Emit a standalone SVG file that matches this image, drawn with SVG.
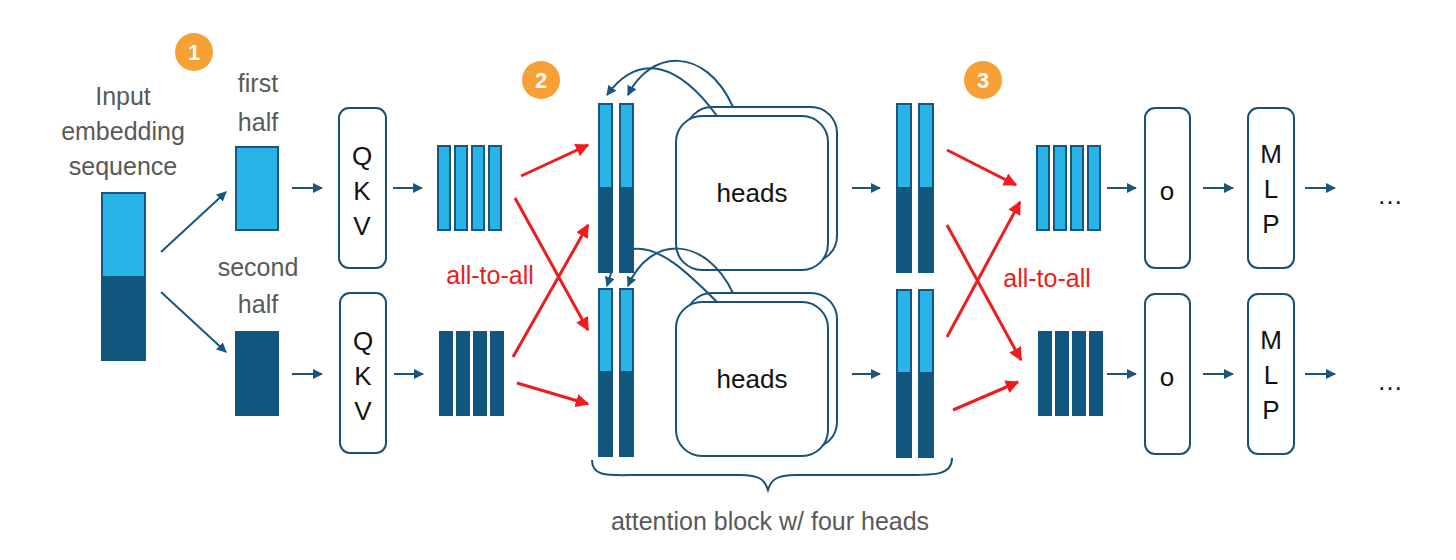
<svg xmlns="http://www.w3.org/2000/svg" width="1456" height="560" viewBox="0 0 1456 560">
<defs>
<marker id="ab" viewBox="0 0 10 10" refX="9" refY="5" markerWidth="5" markerHeight="5" orient="auto"><path d="M0,0 L10,5 L0,10 z" fill="#1a5580"/></marker>
<marker id="ar" viewBox="0 0 10 10" refX="9" refY="5" markerWidth="4.5" markerHeight="4.5" orient="auto"><path d="M0,0 L10,5 L0,10 z" fill="#ee1c1c"/></marker>
<style>
.l{fill:#29b4e8;stroke:#1a5580;stroke-width:2}
.d{fill:#12557e;stroke:#12557e;stroke-width:2}
.box{fill:#fff;stroke:#1a4f78;stroke-width:2}
.c{stroke:#1a5580;stroke-width:2;fill:none;marker-end:url(#ab)}
.r{stroke:#ee1c1c;stroke-width:3;fill:none;marker-end:url(#ar)}
.g{font-family:"Liberation Sans",Arial,sans-serif;font-size:25px;fill:#595959;text-anchor:middle}
.k{font-family:"Liberation Sans",Arial,sans-serif;font-size:26px;fill:#111;text-anchor:middle}
.red{font-family:"Liberation Sans",Arial,sans-serif;font-size:25px;fill:#ee1c1c;text-anchor:middle}
.badge{fill:#f7a035}
.bt{font-family:"Liberation Sans",Arial,sans-serif;font-size:22px;font-weight:bold;fill:#fff;text-anchor:middle}
</style>
</defs>
<rect width="1456" height="560" fill="#fff"/>

<g id="badges">
<circle class="badge" cx="194" cy="52" r="19"/><text class="bt" x="194" y="60">1</text>
<circle class="badge" cx="541" cy="80" r="19"/><text class="bt" x="541" y="88">2</text>
<circle class="badge" cx="983" cy="80" r="19"/><text class="bt" x="983" y="88">3</text>
</g>

<g id="input">
<text class="g" x="123" y="105">Input</text>
<text class="g" x="123" y="140">embedding</text>
<text class="g" x="123" y="175">sequence</text>
<rect class="l" x="102" y="193" width="43" height="84"/>
<rect class="d" x="102" y="277" width="43" height="83"/>
</g>

<g id="first-half">
<text class="g" x="258" y="92">first</text>
<text class="g" x="258" y="131">half</text>
<rect class="l" x="236" y="147" width="42" height="83"/>
</g>
<g id="second-half">
<text class="g" x="258" y="276">second</text>
<text class="g" x="258" y="313">half</text>
<rect class="d" x="236" y="332" width="42" height="83"/>
</g>

<g id="qkv1"><rect class="box" x="339" y="108" width="47" height="160" rx="10"/>
<text class="k" x="362" y="165">Q</text><text class="k" x="362" y="200">K</text><text class="k" x="362" y="235">V</text></g>
<g id="qkv2"><rect class="box" x="340" y="293" width="46" height="160" rx="10"/>
<text class="k" x="363" y="350">Q</text><text class="k" x="363" y="385">K</text><text class="k" x="363" y="420">V</text></g>

<g id="qkvout1">
<rect class="l" x="438" y="146" width="12" height="84"/><rect class="l" x="455" y="146" width="12" height="84"/><rect class="l" x="472" y="146" width="12" height="84"/><rect class="l" x="489" y="146" width="12" height="84"/>
</g>
<g id="qkvout2">
<rect class="d" x="440" y="332" width="12" height="83"/><rect class="d" x="457" y="332" width="12" height="83"/><rect class="d" x="474" y="332" width="12" height="83"/><rect class="d" x="491" y="332" width="12" height="83"/>
</g>

<g id="attn-in1">
<rect class="l" x="599" y="104" width="13" height="84"/><rect class="d" x="599" y="188" width="13" height="84"/>
<rect class="l" x="620" y="104" width="13" height="84"/><rect class="d" x="620" y="188" width="13" height="84"/>
</g>
<g id="attn-in2">
<rect class="l" x="599" y="289" width="13" height="83"/><rect class="d" x="599" y="372" width="13" height="84"/>
<rect class="l" x="620" y="289" width="13" height="83"/><rect class="d" x="620" y="372" width="13" height="84"/>
</g>

<g id="heads1">
<rect class="box" x="686" y="107" width="151" height="155" rx="26"/>
<rect class="box" x="676" y="116" width="152" height="154" rx="26"/>
<text class="k" x="752" y="202">heads</text>
</g>
<g id="heads2">
<rect class="box" x="686" y="293" width="151" height="155" rx="26"/>
<rect class="box" x="676" y="302" width="152" height="154" rx="26"/>
<text class="k" x="752" y="388">heads</text>
</g>

<g id="attn-out1">
<rect class="l" x="897" y="104" width="14" height="84"/><rect class="d" x="897" y="188" width="14" height="84"/>
<rect class="l" x="919" y="104" width="14" height="84"/><rect class="d" x="919" y="188" width="14" height="84"/>
</g>
<g id="attn-out2">
<rect class="l" x="897" y="290" width="14" height="83"/><rect class="d" x="897" y="373" width="14" height="84"/>
<rect class="l" x="919" y="290" width="14" height="83"/><rect class="d" x="919" y="373" width="14" height="84"/>
</g>

<g id="oin1">
<rect class="l" x="1037" y="146" width="12" height="84"/><rect class="l" x="1054" y="146" width="12" height="84"/><rect class="l" x="1071" y="146" width="12" height="84"/><rect class="l" x="1088" y="146" width="12" height="84"/>
</g>
<g id="oin2">
<rect class="d" x="1039" y="332" width="12" height="83"/><rect class="d" x="1056" y="332" width="12" height="83"/><rect class="d" x="1073" y="332" width="12" height="83"/><rect class="d" x="1090" y="332" width="12" height="83"/>
</g>

<g id="o1"><rect class="box" x="1145" y="108" width="45" height="160" rx="10"/><text class="k" x="1167" y="200">o</text></g>
<g id="o2"><rect class="box" x="1145" y="294" width="45" height="160" rx="10"/><text class="k" x="1167" y="386">o</text></g>
<g id="mlp1"><rect class="box" x="1248" y="108" width="46" height="160" rx="10"/>
<text class="k" x="1271" y="163">M</text><text class="k" x="1271" y="198">L</text><text class="k" x="1271" y="233">P</text></g>
<g id="mlp2"><rect class="box" x="1248" y="294" width="46" height="160" rx="10"/>
<text class="k" x="1271" y="349">M</text><text class="k" x="1271" y="384">L</text><text class="k" x="1271" y="419">P</text></g>

<g id="dots">
<text class="k" x="1390" y="204">…</text>
<text class="k" x="1390" y="390">…</text>
</g>

<g id="connectors">
<path class="c" d="M161,252 L226,192"/>
<path class="c" d="M161,292 L226,352"/>
<path class="c" d="M292,188 L322,188"/>
<path class="c" d="M292,374 L322,374"/>
<path class="c" d="M393,188 L422,188"/>
<path class="c" d="M394,374 L423,374"/>
<path class="c" d="M852,188 L880,188"/>
<path class="c" d="M852,374 L880,374"/>
<path class="c" d="M1107,188 L1136,188"/>
<path class="c" d="M1107,374 L1136,374"/>
<path class="c" d="M1203,188 L1233,188"/>
<path class="c" d="M1203,374 L1233,374"/>
<path class="c" d="M1305,188 L1335,188"/>
<path class="c" d="M1305,374 L1335,374"/>
<path class="c" d="M733,107 C705,45 650,50 628,95"/>
<path class="c" d="M717,116 C680,65 640,50 607,95"/>
<path class="c" d="M733,293 C705,235 650,235 628,286"/>
<path class="c" d="M717,302 C690,275 660,245 633,249 M612,270 L607,286"/>
<path class="r" d="M521,176 L588,145"/>
<path class="r" d="M515,198 L588,330"/>
<path class="r" d="M513,357 L588,225"/>
<path class="r" d="M517,383 L588,404"/>
<path class="r" d="M947,150 L1016,185"/>
<path class="r" d="M947,225 L1021,360"/>
<path class="r" d="M947,337 L1020,202"/>
<path class="r" d="M953,410 L1018,382"/>
<path d="M592,460 C592,478 610,475 640,475 L740,475 C760,475 765,480 768,490 C771,480 776,475 796,475 L910,475 C935,475 952,475 952,458" stroke="#1a4f78" stroke-width="2" fill="none"/>
</g>

<g id="labels">
<text class="red" x="490" y="284">all-to-all</text>
<text class="red" x="1047" y="287">all-to-all</text>
<text class="g" x="770" y="530">attention block w/ four heads</text>
</g>
</svg>
